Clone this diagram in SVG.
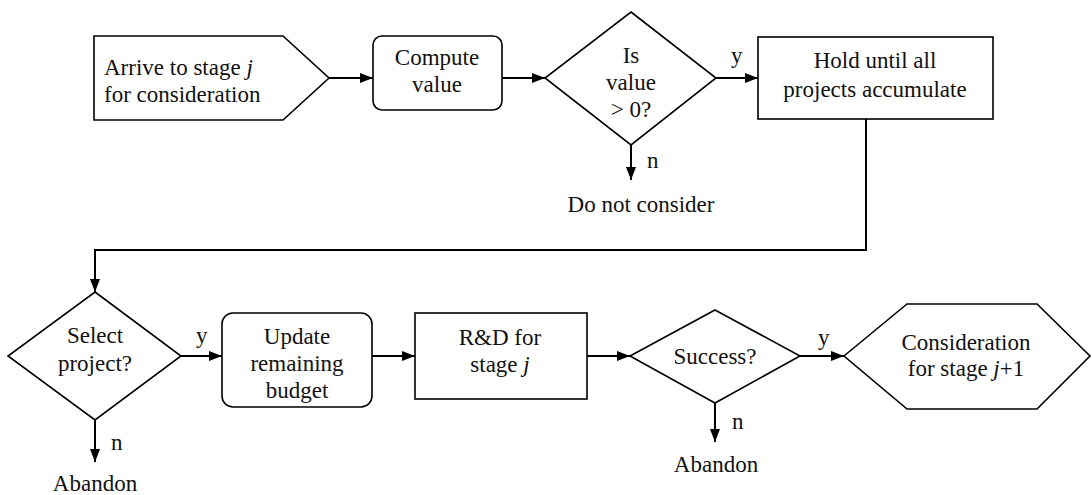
<svg xmlns="http://www.w3.org/2000/svg" width="1092" height="495" viewBox="0 0 1092 495" font-family="'Liberation Serif', 'DejaVu Serif', serif">
<style>
.s{fill:#fff;stroke:#000;stroke-width:1.6}
.t{font-family:'Liberation Serif','DejaVu Serif',serif;font-size:23px;fill:#111;text-anchor:middle}
.l{font-family:'Liberation Serif','DejaVu Serif',serif;font-size:23px;fill:#111}
.c{fill:none;stroke:#000;stroke-width:2}
.i{font-style:italic}
</style>
<defs>
<marker id="ah" markerUnits="userSpaceOnUse" markerWidth="14" markerHeight="10" refX="13" refY="5" orient="auto">
<path d="M0,0 L13,5 L0,10 Z" fill="#000"/>
</marker>
</defs>
<rect width="1092" height="495" fill="#fff"/>
<g id="arrive">
<polygon class="s" points="94,36 283,36 329,78 283,120 94,120"/>
<text class="l" x="104" y="75">Arrive to stage <tspan class="i">j</tspan></text>
<text class="l" x="104" y="102">for consideration</text>
</g>
<g id="compute">
<rect class="s" x="373" y="36" width="129" height="74" rx="9"/>
<text class="t" x="437" y="65">Compute</text>
<text class="t" x="437" y="92">value</text>
</g>
<g id="isvalue">
<polygon class="s" points="631,12 716,78 631,145 545,78"/>
<text class="t" x="631" y="63">Is</text>
<text class="t" x="631" y="90">value</text>
<text class="t" x="631" y="117">&gt; 0?</text>
</g>
<g id="hold">
<rect class="s" x="758" y="37" width="235" height="82"/>
<text class="t" x="875" y="68">Hold until all</text>
<text class="t" x="875" y="97">projects accumulate</text>
</g>
<g id="donot">
<text class="t" x="641" y="212">Do not consider</text>
</g>
<g id="select">
<polygon class="s" points="95,292 181,356 95,420 8,356"/>
<text class="t" x="95" y="343">Select</text>
<text class="t" x="95" y="371">project?</text>
</g>
<g id="update">
<rect class="s" x="222" y="313" width="150" height="94" rx="11"/>
<text class="t" x="297" y="344">Update</text>
<text class="t" x="297" y="371">remaining</text>
<text class="t" x="297" y="398">budget</text>
</g>
<g id="rd">
<rect class="s" x="415" y="313" width="172" height="86"/>
<text class="t" x="500" y="345">R&amp;D for</text>
<text class="t" x="500" y="372">stage <tspan class="i">j</tspan></text>
</g>
<g id="success">
<polygon class="s" points="715,310 800,356 715,403 630,356"/>
<text class="t" x="715" y="364">Success?</text>
</g>
<g id="next">
<polygon class="s" points="844,356 907,304 1037,304 1090,356 1037,409 907,409"/>
<text class="t" x="966" y="350">Consideration</text>
<text class="t" x="966" y="376">for stage <tspan class="i">j</tspan>+1</text>
</g>
<g id="abandon1">
<text class="t" x="95" y="491">Abandon</text>
</g>
<g id="abandon2">
<text class="t" x="716" y="472">Abandon</text>
</g>
<g id="connectors">
<path class="c" d="M329,78 H373" marker-end="url(#ah)"/>
<path class="c" d="M502,78 H545" marker-end="url(#ah)"/>
<path class="c" d="M716,78 H758" marker-end="url(#ah)"/>
<path class="c" d="M631,145 V180" marker-end="url(#ah)"/>
<path class="c" d="M866,119 V250 H95 V292" marker-end="url(#ah)"/>
<path class="c" d="M181,356 H222" marker-end="url(#ah)"/>
<path class="c" d="M372,356 H415" marker-end="url(#ah)"/>
<path class="c" d="M587,356 H630" marker-end="url(#ah)"/>
<path class="c" d="M800,356 H844" marker-end="url(#ah)"/>
<path class="c" d="M95,420 V462" marker-end="url(#ah)"/>
<path class="c" d="M715,403 V442" marker-end="url(#ah)"/>
<text class="l" x="731" y="63">y</text>
<text class="l" x="647" y="168">n</text>
<text class="l" x="196" y="343">y</text>
<text class="l" x="111" y="450">n</text>
<text class="l" x="818" y="345">y</text>
<text class="l" x="732" y="429">n</text>
</g>
</svg>
